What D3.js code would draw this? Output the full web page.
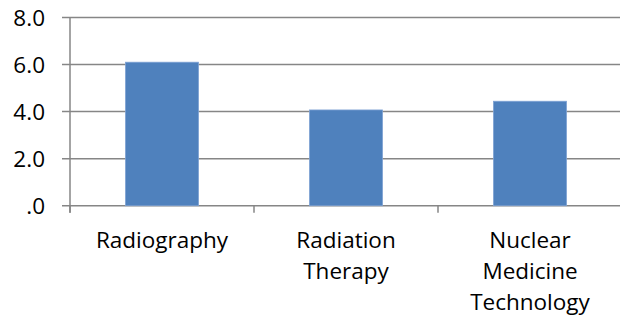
<!DOCTYPE html>
<html>
<head>
<meta charset="utf-8">
<script src="https://cdn.jsdelivr.net/npm/d3@7"></script>
<style>
  html, body { margin: 0; padding: 0; background: #fff; }
  svg { display: block; }
  text { font-family: "Open Sans", "Noto Sans", sans-serif; fill: #000; }
</style>
</head>
<body>
<svg id="chart" width="620" height="320"></svg>
<script>
const categories = ["Radiography", "Radiation Therapy", "Nuclear Medicine Technology"];
const values = [6.1, 4.07, 4.44];
const yTicks = [0, 2, 4, 6, 8];
const yTickLabels = [".0", "2.0", "4.0", "6.0", "8.0"];

const svg = d3.select("#chart");
const mLeft = 70, mRight = 622, mTop = 17.5, mBottom = 205.7;
const gridColor = "#868686";

const x = d3.scaleBand().domain(categories).range([mLeft, mRight])
  .paddingInner(0.603).paddingOuter(0.3015);
const y = d3.scaleLinear().domain([0, 8]).range([mBottom, mTop]);

// gridlines (with left tick extensions)
svg.append("g").selectAll("line").data(yTicks).join("line")
  .attr("x1", mLeft - 8).attr("x2", mRight)
  .attr("y1", d => y(d)).attr("y2", d => y(d))
  .attr("stroke", gridColor).attr("stroke-width", 1.5);

// y axis line
svg.append("line").attr("x1", mLeft).attr("x2", mLeft)
  .attr("y1", y(8)).attr("y2", mBottom + 7)
  .attr("stroke", gridColor).attr("stroke-width", 1.5);

// category ticks (band boundaries)
const step = x.step();
const bounds = d3.range(categories.length + 1).map(i => mLeft + i * step);
svg.append("g").selectAll("line").data(bounds).join("line")
  .attr("x1", d => d).attr("x2", d => d)
  .attr("y1", mBottom).attr("y2", mBottom + 7)
  .attr("stroke", gridColor).attr("stroke-width", 1.5);

// bars
svg.append("g").selectAll("rect").data(values).join("rect")
  .attr("x", (d, i) => x(categories[i]))
  .attr("width", x.bandwidth())
  .attr("y", d => y(d))
  .attr("height", d => mBottom - y(d))
  .attr("fill", "#4F81BD")
  .attr("stroke", "#7EA2D4").attr("stroke-width", 0.8);

// y tick labels
svg.append("g").selectAll("text").data(yTicks).join("text")
  .attr("x", 45).attr("y", d => y(d))
  .attr("dy", "0.36em")
  .attr("text-anchor", "end")
  .attr("font-size", 22.5)
  .text((d, i) => yTickLabels[i]);

// category labels
const lab = svg.append("g").selectAll("text").data(categories).join("text")
  .attr("x", d => x(d) + x.bandwidth() / 2)
  .attr("y", 248.3)
  .attr("text-anchor", "middle")
  .attr("font-size", 22.5);
lab.each(function(d) {
  const t = d3.select(this);
  d.split(" ").forEach((w, i) => {
    t.append("tspan").attr("x", x(d) + x.bandwidth() / 2)
      .attr("dy", i === 0 ? 0 : 31).text(w);
  });
});
</script>
</body>
</html>
